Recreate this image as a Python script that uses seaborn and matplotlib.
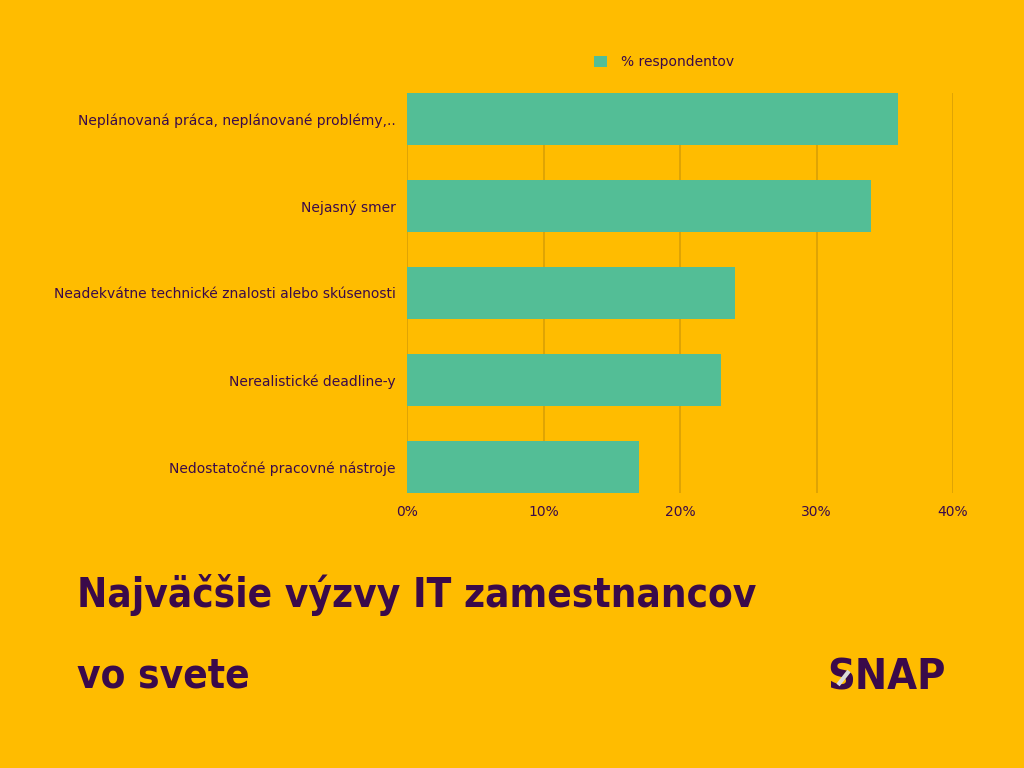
import matplotlib
matplotlib.use("Agg")
import matplotlib.pyplot as plt
import seaborn as sns
import pandas as pd
from matplotlib.ticker import FuncFormatter
from matplotlib.lines import Line2D

categories = [
    "Neplánovaná práca, neplánované problémy,..",
    "Nejasný smer",
    "Neadekvátne technické znalosti alebo skúsenosti",
    "Nerealistické deadline-y",
    "Nedostatočné pracovné nástroje",
]
values = [36, 34, 24, 23, 17]
series_name = "% respondentov"
x_ticks = [0, 10, 20, 30, 40]

BG = "#FFBC00"
BAR = "#53BE96"
TXT = "#3A0A4A"
GRID = "#D9A006"

sns.set_theme(style="white")
plt.rcParams["font.family"] = ["DejaVu Sans"]

df = pd.DataFrame({"category": categories, "value": values})

fig = plt.figure(figsize=(10.24, 7.68), dpi=100, facecolor=BG)
ax = fig.add_axes([407/1024, 1 - 493/768, (953-407)/1024, 400/768])
ax.set_facecolor(BG)

sns.barplot(data=df, x="value", y="category", orient="h", color=BAR,
            width=0.6, ax=ax, saturation=1, label=series_name, zorder=3,
            edgecolor="none", linewidth=0)

ax.set_xlim(0, 40)
ax.set_ylim(4.3, -0.3)
ax.set_xticks(x_ticks)
ax.xaxis.set_major_formatter(FuncFormatter(lambda v, p: f"{int(v)}%"))
ax.grid(axis="x", color=GRID, linewidth=1.2, zorder=0)
ax.set_axisbelow(True)
for s in ax.spines.values():
    s.set_visible(False)
ax.set_xlabel("")
ax.set_ylabel("")
ax.tick_params(axis="both", length=0, colors=TXT, labelsize=10)
ax.tick_params(axis="y", pad=8)
ax.tick_params(axis="x", pad=9)

leg = ax.legend(loc="lower center", bbox_to_anchor=(0.471, 1.028), frameon=False,
                fontsize=10, handlelength=0.9, handleheight=0.9, handletextpad=1.0)
for t in leg.get_texts():
    t.set_color(TXT)

title_kw = dict(fontsize=29, fontweight="bold", color=TXT, va="center", ha="left",
                family="DejaVu Sans", fontstretch="condensed")
fig.text(77/1024, 1 - 595/768, "Najväčšie výzvy IT zamestnancov", **title_kw)
fig.text(77/1024, 1 - 677/768, "vo svete", **title_kw)
fig.text(946/1024, 1 - 677/768, "SNAP", fontsize=31, fontweight="bold",
         color=TXT, va="center", ha="right", family="DejaVu Sans",
         fontstretch="condensed")
fig.add_artist(Line2D([838/1024, 849/1024], [1 - 685/768, 1 - 671/768],
                      color="#DADADA", linewidth=3, solid_capstyle="butt",
                      transform=fig.transFigure, zorder=10))

fig.savefig("out.png", dpi=100, facecolor=BG)
